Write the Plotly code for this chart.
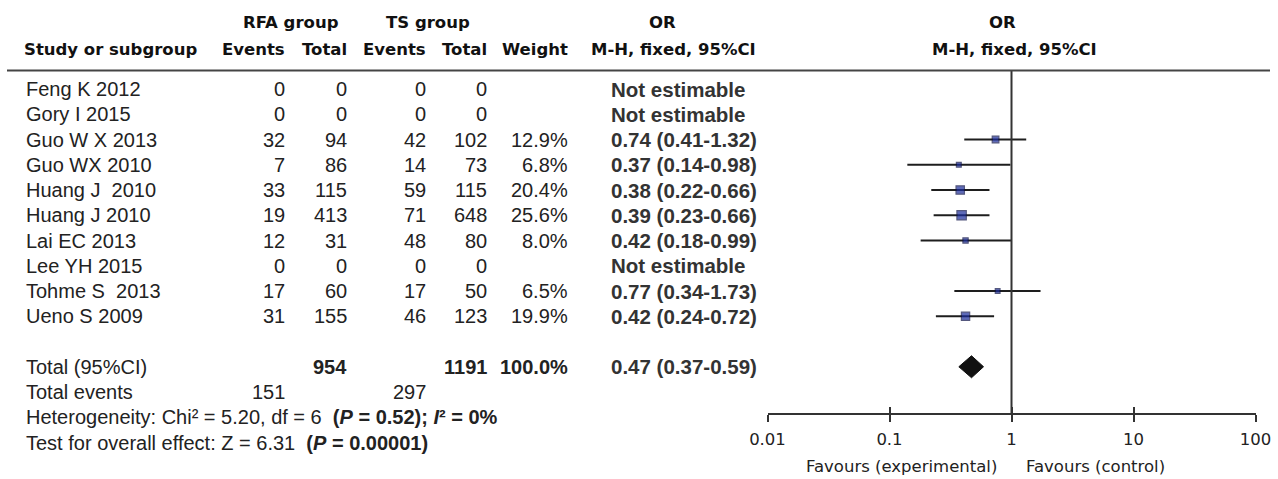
import numpy as np
import plotly.graph_objects as go

# ---- study data -------------------------------------------------------------
studies = ["Feng K 2012", "Gory I 2015", "Guo W X 2013", "Guo WX 2010",
           "Huang J\u00a0 2010", "Huang J 2010", "Lai EC 2013", "Lee YH 2015",
           "Tohme S\u00a0 2013", "Ueno S 2009"]
rfa_events = [0, 0, 32, 7, 33, 19, 12, 0, 17, 31]
rfa_total = [0, 0, 94, 86, 115, 413, 31, 0, 60, 155]
ts_events = [0, 0, 42, 14, 59, 71, 48, 0, 17, 46]
ts_total = [0, 0, 102, 73, 115, 648, 80, 0, 50, 123]
weight = [None, None, 12.9, 6.8, 20.4, 25.6, 8.0, None, 6.5, 19.9]
odds_ratio = [None, None, 0.74, 0.37, 0.38, 0.39, 0.42, None, 0.77, 0.42]
ci_low = [None, None, 0.41, 0.14, 0.22, 0.23, 0.18, None, 0.34, 0.24]
ci_high = [None, None, 1.32, 0.98, 0.66, 0.66, 0.99, None, 1.73, 0.72]

# pooled result
total_rfa, total_ts, total_weight = 954, 1191, 100.0
pooled_or, pooled_low, pooled_high = 0.47, 0.37, 0.59
events_rfa, events_ts = 151, 297
het_chi2, het_df, het_p, het_i2 = 5.20, 6, 0.52, 0
overall_z, overall_p = 6.31, "0.00001"

tick_vals = [0.01, 0.1, 1, 10, 100]
tick_text = ["0.01", "0.1", "1", "10", "100"]

# ---- page geometry (pixels) -------------------------------------------------
W, H = 1278, 479
ROW0_PX, PITCH = 89.0, 25.25          # first study row and row spacing


def row_of(px):
    return (px - ROW0_PX) / PITCH


RULE_ROW = row_of(70.5)
AXIS_PX = 414
AXIS_ROW = row_of(AXIS_PX)
TOTAL_ROW, EVENTS_ROW, HET_ROW, TEST_ROW = 11, 12, 13, 14

# column anchors
X_NAME, X_RFA_E, X_RFA_T, X_TS_E, X_TS_T, X_W, X_OR = 24, 287, 349, 428, 489, 570, 609

TABLE_FONT = dict(family="Arial, Liberation Sans", size=20, color="#222222")
OR_FONT = dict(family="Arial, Liberation Sans", size=20.5, color="#333333")
HEAD_FONT = dict(family="DejaVu Sans", size=16.5, color="#111111")
AXIS_FONT = dict(family="DejaVu Sans", size=16.5, color="#222222")

annotations = []


def put(x_px, row, text, anchor="left", font=TABLE_FONT):
    annotations.append(dict(xref="paper", x=x_px / W, yref="y", y=row, text=text,
                            xanchor=anchor, yanchor="middle", showarrow=False,
                            font=font))


# ---- header ------------------------------------------------------------------
h1, h2 = row_of(22), row_of(49)
put(291, h1, "<b>RFA group</b>", "center", HEAD_FONT)
put(428, h1, "<b>TS group</b>", "center", HEAD_FONT)
put(662, h1, "<b>OR</b>", "center", HEAD_FONT)
put(1002, h1, "<b>OR</b>", "center", HEAD_FONT)
put(22, h2, "<b>Study or subgroup</b>", "left", HEAD_FONT)
for xp, lab in [(X_RFA_E, "Events"), (X_RFA_T, "Total"), (X_TS_E, "Events"),
                (X_TS_T, "Total"), (X_W, "Weight"), (758, "M-H, fixed, 95%CI")]:
    put(xp, h2, f"<b>{lab}</b>", "right", HEAD_FONT)
put(1014, h2, "<b>M-H, fixed, 95%CI</b>", "center", HEAD_FONT)

# ---- study rows -------------------------------------------------------------
for i, name in enumerate(studies):
    put(X_NAME, i, name)
    put(X_RFA_E, i, str(rfa_events[i]), "right")
    put(X_RFA_T, i, str(rfa_total[i]), "right")
    put(X_TS_E, i, str(ts_events[i]), "right")
    put(X_TS_T, i, str(ts_total[i]), "right")
    if weight[i] is not None:
        put(X_W, i, f"{weight[i]:.1f}%", "right")
    if odds_ratio[i] is None:
        put(X_OR, i, "<b>Not estimable</b>", "left", OR_FONT)
    else:
        put(X_OR, i, f"<b>{odds_ratio[i]:.2f} ({ci_low[i]:.2f}-{ci_high[i]:.2f})</b>",
            "left", OR_FONT)

# ---- totals and statistics ---------------------------------------------------
put(X_NAME, TOTAL_ROW, "Total (95%CI)")
put(X_RFA_T, TOTAL_ROW, f"<b>{total_rfa}</b>", "right")
put(X_TS_T, TOTAL_ROW, f"<b>{total_ts}</b>", "right")
put(X_W, TOTAL_ROW, f"<b>{total_weight:.1f}%</b>", "right")
put(X_OR, TOTAL_ROW, f"<b>{pooled_or:.2f} ({pooled_low:.2f}-{pooled_high:.2f})</b>",
    "left", OR_FONT)
put(X_NAME, EVENTS_ROW, "Total events")
put(X_RFA_E, EVENTS_ROW, str(events_rfa), "right")
put(X_TS_E, EVENTS_ROW, str(events_ts), "right")
put(X_NAME, HET_ROW,
    f"Heterogeneity: Chi\u00b2 = {het_chi2:.2f}, df = {het_df}\u00a0 "
    f"<b>(<i>P</i> = {het_p:.2f}); <i>I</i>\u00b2 = {het_i2}%</b>")
put(X_NAME, TEST_ROW,
    f"Test for overall effect: Z = {overall_z:.2f}\u00a0 <b>(<i>P</i> = {overall_p})</b>")

# favours labels either side of the line of no effect
FAV_ROW = row_of(466)
annotations.append(dict(xref="x", x=np.log10(1), xshift=-12, yref="y", y=FAV_ROW,
                        text="Favours (experimental)", xanchor="right",
                        yanchor="middle", showarrow=False, font=AXIS_FONT))
annotations.append(dict(xref="x", x=np.log10(1), xshift=12, yref="y", y=FAV_ROW,
                        text="Favours (control)", xanchor="left",
                        yanchor="middle", showarrow=False, font=AXIS_FONT))

# ---- forest plot traces ------------------------------------------------------
est_rows = [i for i, v in enumerate(odds_ratio) if v is not None]

ci_x, ci_y = [], []
for i in est_rows:
    ci_x += [ci_low[i], ci_high[i], None]
    ci_y += [i, i, None]

fig = go.Figure()
fig.add_trace(go.Scatter(x=ci_x, y=ci_y, mode="lines",
                         line=dict(color="#1e1e1e", width=2),
                         hoverinfo="skip", showlegend=False))
fig.add_trace(go.Scatter(
    x=[odds_ratio[i] for i in est_rows], y=est_rows, mode="markers",
    marker=dict(symbol="square", size=[1.85 * np.sqrt(weight[i]) for i in est_rows],
                color="#1b2c9c", line=dict(color="#0e1248", width=1.2)),
    showlegend=False))

# pooled diamond
half_h = 11 / PITCH
fig.add_trace(go.Scatter(
    x=[pooled_low, pooled_or, pooled_high, pooled_or, pooled_low],
    y=[TOTAL_ROW, TOTAL_ROW - half_h, TOTAL_ROW, TOTAL_ROW + half_h, TOTAL_ROW],
    mode="lines", fill="toself", fillcolor="#111111",
    line=dict(color="#111111", width=1), showlegend=False, hoverinfo="skip"))

# line of no effect
fig.add_trace(go.Scatter(x=[1, 1], y=[RULE_ROW, AXIS_ROW], mode="lines",
                         line=dict(color="#333333", width=2),
                         hoverinfo="skip", showlegend=False))

# companion axis for the upper half of the tick marks
fig.add_trace(go.Scatter(x=tick_vals, y=[AXIS_ROW] * len(tick_vals), xaxis="x2",
                         mode="markers", marker=dict(opacity=0),
                         hoverinfo="skip", showlegend=False))

axis_pos = 1 - AXIS_PX / H
dom = [767.5 / W, 1255.5 / W]
common = dict(type="log", range=[-2, 2], domain=dom, anchor="free",
              position=axis_pos, tickvals=tick_vals, showgrid=False,
              zeroline=False, tickwidth=2, tickcolor="#333333", ticklen=7,
              automargin=False)

fig.update_layout(
    width=W, height=H,
    margin=dict(l=0, r=0, t=0, b=0, pad=0, autoexpand=False),
    paper_bgcolor="white", plot_bgcolor="white",
    xaxis=dict(**common, ticks="outside", ticktext=tick_text, showline=True,
               linecolor="#333333", linewidth=2, tickfont=AXIS_FONT,
               ticklabelstandoff=3),
    xaxis2=dict(**common, ticks="inside", overlaying="x", showticklabels=False,
                showline=False),
    yaxis=dict(range=[row_of(H), row_of(0)], domain=[0, 1], visible=False,
               showgrid=False, zeroline=False, automargin=False),
    annotations=annotations,
    shapes=[dict(type="line", xref="paper", x0=7 / W, x1=1270 / W, yref="y",
                 y0=RULE_ROW, y1=RULE_ROW, line=dict(color="#444444", width=2))],
)

fig.write_html("out.html")
